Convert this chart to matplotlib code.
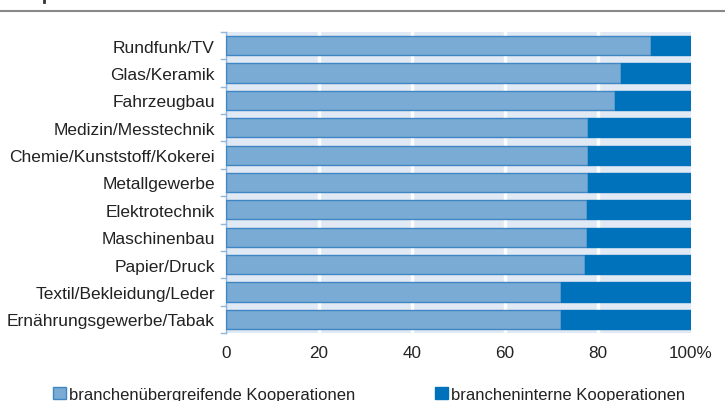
import numpy as np
import matplotlib.pyplot as plt
from matplotlib.lines import Line2D
from matplotlib.patches import Patch

categories = ['Rundfunk/TV', 'Glas/Keramik', 'Fahrzeugbau', 'Medizin/Messtechnik',
              'Chemie/Kunststoff/Kokerei', 'Metallgewerbe', 'Elektrotechnik',
              'Maschinenbau', 'Papier/Druck', 'Textil/Bekleidung/Leder',
              'Ernährungsgewerbe/Tabak']
uebergreifend = [91.5, 84.9, 83.7, 77.9, 77.8, 77.8, 77.7, 77.6, 77.1, 72.0, 72.0]
intern = [100 - v for v in uebergreifend]
xticks = [0, 20, 40, 60, 80, 100]
xticklabels = ['0', '20', '40', '60', '80', '100%']
legend_labels = ['branchenübergreifende Kooperationen', 'brancheninterne Kooperationen']

light = '#7aabd4'
light_edge = '#3f86c4'
dark = '#0072bb'
bg = '#e1e9f4'
text_col = '#222222'

plt.rcParams['font.family'] = ['Liberation Sans', 'DejaVu Sans']

W, H = 725, 402
fig = plt.figure(figsize=(W / 100, H / 100), dpi=100)
ax = fig.add_axes([226 / W, (H - 334) / H, 465 / W, 301 / H])
ax.set_facecolor(bg)

y = np.arange(len(categories))
ax.barh(y, uebergreifend, height=0.7, color=light, edgecolor=light_edge, linewidth=1.0, zorder=3)
ax.barh(y, intern, left=uebergreifend, height=0.7, color=dark, edgecolor=dark, linewidth=1.0, zorder=3)

ax.set_xlim(0, 100)
ax.set_ylim(len(categories) - 0.5, -0.5)
ax.set_xticks(xticks)
ax.set_xticklabels(xticklabels)
ax.set_yticks(y)
ax.set_yticklabels(categories)
ax.tick_params(axis='x', length=0, pad=9, labelsize=12.3, labelcolor=text_col)
ax.tick_params(axis='y', length=0, pad=8, labelsize=12.5, labelcolor=text_col)

# white vertical gridlines
for xv in xticks[1:-1]:
    ax.axvline(xv, color='white', linewidth=2.5, zorder=1)

for side in ['top', 'right', 'bottom']:
    ax.spines[side].set_visible(False)
ax.spines['left'].set_color('#8fb6dc')
ax.spines['left'].set_linewidth(1.0)

# small ticks between categories on the left axis
for b in np.arange(-0.5, len(categories), 1.0):
    ax.plot([-1.1, 0], [b, b], color='#8fb6dc', linewidth=1.0, clip_on=False, zorder=4)

# header rule and the cut-off remnant of the title above it
fig.add_artist(Line2D([0, 1], [1 - 12 / H, 1 - 12 / H], color='#888888', linewidth=1.5))
fig.add_artist(Line2D([43.5 / W, 43.5 / W], [1 - 3 / H, 1], color='#333333', linewidth=2))

handles = [Patch(facecolor=light, edgecolor=light_edge), Patch(facecolor=dark, edgecolor=dark)]
fig.legend(handles[:1], legend_labels[:1], loc='lower left', bbox_to_anchor=(38 / W, -0.040),
           frameon=False, fontsize=12.0, handlelength=0.75, handleheight=0.75, handletextpad=0.2,
           labelcolor=text_col)
fig.legend(handles[1:], legend_labels[1:], loc='lower left', bbox_to_anchor=(420 / W, -0.040),
           frameon=False, fontsize=12.0, handlelength=0.75, handleheight=0.75, handletextpad=0.2,
           labelcolor=text_col)

fig.savefig('out.png', dpi=100)
